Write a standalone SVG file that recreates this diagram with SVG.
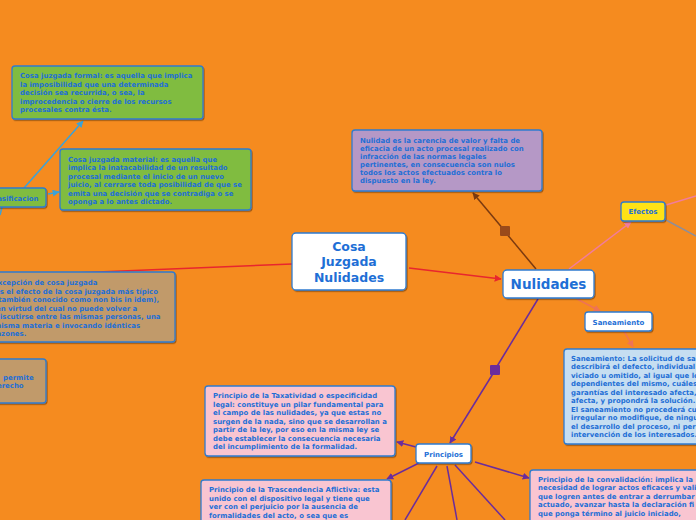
<svg xmlns="http://www.w3.org/2000/svg" width="696" height="520" viewBox="0 0 696 520">
<defs>
<filter id="sh" x="-10%" y="-10%" width="120%" height="130%"><feDropShadow dx="1" dy="1.2" stdDeviation="0.6" flood-color="#000" flood-opacity="0.35"/></filter>
<marker id="aRed" viewBox="0 0 10 10" refX="9" refY="5" markerWidth="7" markerHeight="7" markerUnits="userSpaceOnUse" orient="auto"><path d="M0,0L10,5L0,10z" fill="#E8262E"/></marker>
<marker id="aBlue" viewBox="0 0 10 10" refX="9" refY="5" markerWidth="7" markerHeight="7" markerUnits="userSpaceOnUse" orient="auto"><path d="M0,0L10,5L0,10z" fill="#3AA2DA"/></marker>
<marker id="aBrown" viewBox="0 0 10 10" refX="9" refY="5" markerWidth="7" markerHeight="7" markerUnits="userSpaceOnUse" orient="auto"><path d="M0,0L10,5L0,10z" fill="#7B3A10"/></marker>
<marker id="aPurple" viewBox="0 0 10 10" refX="9" refY="5" markerWidth="7" markerHeight="7" markerUnits="userSpaceOnUse" orient="auto"><path d="M0,0L10,5L0,10z" fill="#6B2C9C"/></marker>
<marker id="aPink" viewBox="0 0 10 10" refX="9" refY="5" markerWidth="7" markerHeight="7" markerUnits="userSpaceOnUse" orient="auto"><path d="M0,0L10,5L0,10z" fill="#F27C9C"/></marker>
<marker id="aSalmon" viewBox="0 0 10 10" refX="9" refY="5" markerWidth="7" markerHeight="7" markerUnits="userSpaceOnUse" orient="auto"><path d="M0,0L10,5L0,10z" fill="#EE7356"/></marker>
</defs>
<style>
.box{stroke:#2F7BCF;stroke-width:1.3;filter:url(#sh)}
.w{fill:#FFFFFF}.g{fill:#80BC41}.t{fill:#C19A6B}.p{fill:#B598C6}.k{fill:#F9C5D1}.b{fill:#C6DEF1}.y{fill:#FFE213}
.tx{font-family:"DejaVu Sans",Verdana,sans-serif;font-weight:bold;fill:#1E6FD6;font-size:6.95px}
.lb{font-family:"DejaVu Sans",Verdana,sans-serif;font-weight:bold;fill:#1E6FD6;font-size:7px;text-anchor:middle}
.big{font-family:"DejaVu Sans",Verdana,sans-serif;font-weight:bold;fill:#1E6FD6;text-anchor:middle}
.c{fill:none;stroke-width:1.5}
</style>
<rect x="0" y="0" width="696" height="520" fill="#F58B1F"/>

<g id="connectors">
<line class="c" x1="292" y1="264" x2="0" y2="276" stroke="#E8262E"/>
<line class="c" x1="409" y1="268" x2="501" y2="279" stroke="#E8262E" marker-end="url(#aRed)"/>
<line class="c" x1="24" y1="188" x2="83" y2="121" stroke="#3AA2DA" marker-end="url(#aBlue)"/>
<line class="c" x1="48" y1="194" x2="59" y2="192" stroke="#3AA2DA" marker-end="url(#aBlue)"/>
<line class="c" x1="2" y1="207" x2="0" y2="215" stroke="#3AA2DA"/>
<line class="c" x1="536" y1="269" x2="506" y2="233" stroke="#7B3A10"/>
<line class="c" x1="504" y1="230" x2="473" y2="193" stroke="#7B3A10" marker-end="url(#aBrown)"/>
<rect x="500" y="226" width="10" height="10" rx="1" fill="#9A4A1A"/>
<line class="c" x1="538" y1="299" x2="496" y2="368" stroke="#6B2C9C"/>
<line class="c" x1="494" y1="372" x2="450" y2="443" stroke="#6B2C9C" marker-end="url(#aPurple)"/>
<rect x="490" y="365" width="10" height="10" rx="1" fill="#6B2C9C"/>
<line class="c" x1="569" y1="269" x2="631" y2="222" stroke="#F27C9C" marker-end="url(#aPink)"/>
<line class="c" x1="666" y1="205" x2="696" y2="196" stroke="#F27C9C"/>
<line class="c" x1="666" y1="220" x2="696" y2="236" stroke="#8E8E9A"/>
<line class="c" x1="577" y1="299" x2="600" y2="311" stroke="#EE7356" marker-end="url(#aSalmon)"/>
<line class="c" x1="624" y1="331" x2="633" y2="347" stroke="#EE7356" marker-end="url(#aSalmon)"/>
<line class="c" x1="416" y1="447" x2="397" y2="442" stroke="#6B2C9C" marker-end="url(#aPurple)"/>
<line class="c" x1="419" y1="463" x2="387" y2="479" stroke="#6B2C9C" marker-end="url(#aPurple)"/>
<line class="c" x1="475" y1="462" x2="529" y2="478" stroke="#6B2C9C" marker-end="url(#aPurple)"/>
<line class="c" x1="437" y1="466" x2="405" y2="520" stroke="#6B2C9C"/>
<line class="c" x1="447" y1="466" x2="457" y2="520" stroke="#6B2C9C"/>
<line class="c" x1="455" y1="465" x2="505" y2="520" stroke="#6B2C9C"/>
</g>

<g id="cosa-juzgada">
<rect class="box w" x="292" y="233" width="114" height="57" rx="4"/>
<text class="big" font-size="12.5" x="349" y="251">Cosa</text>
<text class="big" font-size="12.5" x="349" y="266">Juzgada</text>
<text class="big" font-size="12.5" x="349" y="282">Nulidades</text>
</g>

<g id="nulidades">
<rect class="box w" x="503" y="270" width="91" height="28" rx="4"/>
<text class="big" font-size="13.5" x="548.5" y="289">Nulidades</text>
</g>

<g id="definicion">
<rect class="box p" x="352" y="130" width="190" height="61" rx="3"/>
<text class="tx" x="360"><tspan x="360" y="142.5">Nulidad es la carencia de valor y falta de</tspan><tspan x="360" y="150.5">eficacia de un acto procesal realizado con</tspan><tspan x="360" y="158.5">infracción de las normas legales</tspan><tspan x="360" y="166.5">pertinentes, en consecuencia son nulos</tspan><tspan x="360" y="174.5">todos los actos efectuados contra lo</tspan><tspan x="360" y="182.5">dispuesto en la ley.</tspan></text>
</g>

<g id="formal">
<rect class="box g" x="12" y="66" width="191" height="53" rx="3"/>
<text class="tx"><tspan x="20" y="78">Cosa juzgada formal: es aquella que implica</tspan><tspan x="20" y="86.5">la imposibilidad que una determinada</tspan><tspan x="20" y="95">decisión sea recurrida, o sea, la</tspan><tspan x="20" y="103.5">improcedencia o cierre de los recursos</tspan><tspan x="20" y="112">procesales contra ésta.</tspan></text>
</g>

<g id="material">
<rect class="box g" x="60" y="149" width="191" height="61" rx="3"/>
<text class="tx"><tspan x="68" y="161.5">Cosa juzgada material: es aquella que</tspan><tspan x="68" y="170">implica la inatacabilidad de un resultado</tspan><tspan x="68" y="178.5">procesal mediante el inicio de un nuevo</tspan><tspan x="68" y="187">juicio, al cerrarse toda posibilidad de que se</tspan><tspan x="68" y="195.5">emita una decisión que se contradiga o se</tspan><tspan x="68" y="204">oponga a lo antes dictado.</tspan></text>
</g>

<g id="clasificacion">
<rect class="box g" x="-20" y="188" width="66" height="19" rx="3"/>
<text class="tx" x="38.5" y="200.5" text-anchor="end" font-size="7">Clasificacion</text>
</g>

<g id="excepcion">
<rect class="box t" x="-20" y="272" width="195" height="70" rx="3"/>
<text class="tx"><tspan x="-7" y="285">Excepción de cosa juzgada</tspan><tspan x="-5" y="293.5">Es el efecto de la cosa juzgada más típico</tspan><tspan x="-5" y="302">(también conocido como non bis in idem),</tspan><tspan x="-4" y="310.5">en virtud del cual no puede volver a</tspan><tspan x="-5" y="319">discutirse entre las mismas personas, una</tspan><tspan x="-6" y="327.5">misma materia e invocando idénticas</tspan><tspan x="-7" y="336">razones.</tspan></text>
</g>

<g id="otra">
<rect class="box t" x="-20" y="359" width="66" height="44" rx="3"/>
<text class="tx"><tspan x="3" y="379.5">permite</tspan><tspan x="-8" y="388">derecho</tspan></text>
</g>

<g id="efectos">
<rect class="box y" x="621" y="202" width="44" height="19" rx="3"/>
<text class="lb" x="643" y="214">Efectos</text>
</g>

<g id="saneamiento">
<rect class="box w" x="585" y="312" width="67" height="19" rx="3"/>
<text class="lb" x="618.5" y="324.5">Saneamiento</text>
</g>

<g id="saneamiento-def">
<rect class="box b" x="564" y="349" width="150" height="95" rx="3"/>
<text class="tx"><tspan x="571" y="360.5">Saneamiento: La solicitud de sa</tspan><tspan x="571" y="369">describirá el defecto, individual</tspan><tspan x="571" y="377.5">viciado u omitido, al igual que lo</tspan><tspan x="571" y="386">dependientes del mismo, cuáles</tspan><tspan x="571" y="394.5">garantías del interesado afecta,</tspan><tspan x="571" y="403">afecta, y propondrá la solución.</tspan><tspan x="571" y="411.5">El saneamiento no procederá cu</tspan><tspan x="571" y="420">irregular no modifique, de ningu</tspan><tspan x="571" y="428.5">el desarrollo del proceso, ni per</tspan><tspan x="571" y="437">intervención de los interesados.</tspan></text>
</g>

<g id="principios">
<rect class="box w" x="416" y="444" width="55" height="19" rx="3"/>
<text class="lb" x="443.5" y="456.5">Principios</text>
</g>

<g id="taxatividad">
<rect class="box k" x="205" y="386" width="190" height="70" rx="3"/>
<text class="tx"><tspan x="213" y="398">Principio de la Taxatividad o especificidad</tspan><tspan x="213" y="406.5">legal: constituye un pilar fundamental  para</tspan><tspan x="213" y="415">el campo de las nulidades, ya que estas no</tspan><tspan x="213" y="423.5">surgen de la nada, sino que se desarrollan a</tspan><tspan x="213" y="432">partir de la ley, por eso en la misma ley se</tspan><tspan x="213" y="440.5">debe establecer la consecuencia necesaria</tspan><tspan x="213" y="449">del incumplimiento de la formalidad.</tspan></text>
</g>

<g id="trascendencia">
<rect class="box k" x="201" y="480" width="190" height="60" rx="3"/>
<text class="tx"><tspan x="209" y="492">Principio de la Trascendencia Aflictiva: esta</tspan><tspan x="209" y="500.5">unido con el dispositivo legal y tiene que</tspan><tspan x="209" y="509">ver con el perjuicio por la ausencia de</tspan><tspan x="209" y="517.5">formalidades del acto, o sea que es</tspan></text>
</g>

<g id="convalidacion">
<rect class="box k" x="530" y="470" width="190" height="70" rx="3"/>
<text class="tx"><tspan x="538" y="481.5">Principio de la convalidación: implica la</tspan><tspan x="538" y="490">necesidad de lograr actos eficaces y vali</tspan><tspan x="538" y="498.5">que logren antes de entrar a derrumbar</tspan><tspan x="538" y="507">actuado, avanzar hasta la declaración fi</tspan><tspan x="538" y="515.5">que ponga término al juicio iniciado,</tspan></text>
</g>
</svg>
